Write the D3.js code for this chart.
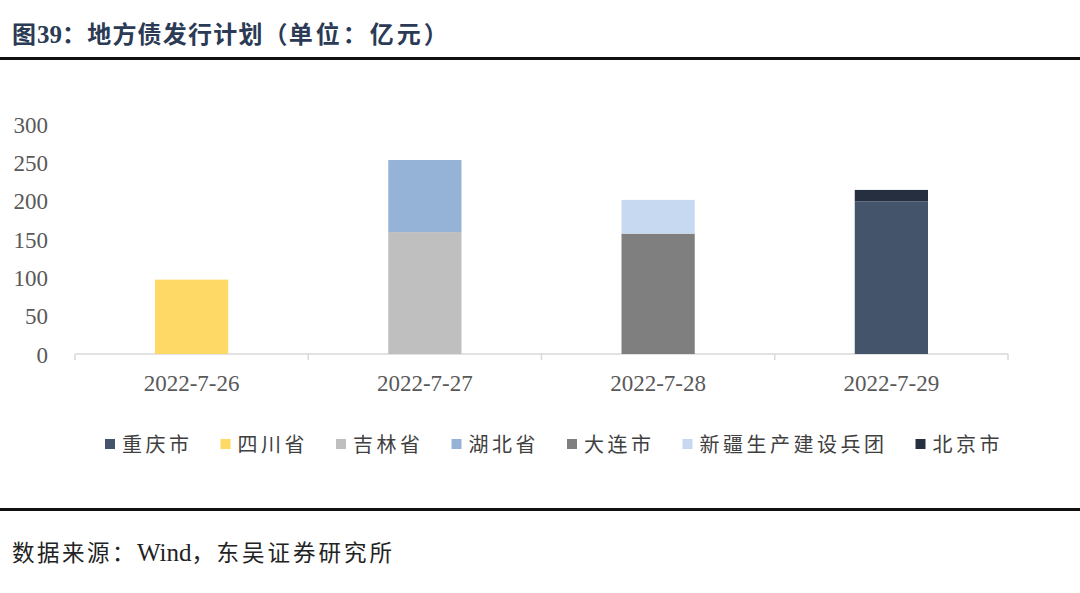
<!DOCTYPE html>
<html><head><meta charset="utf-8">
<script src="https://cdn.jsdelivr.net/npm/d3@7"></script>
<style>body{margin:0;background:#fff;}svg{display:block;}</style>
</head><body>
<svg id="c" width="1080" height="593"></svg>
<script>
const dates = ["2022-7-26","2022-7-27","2022-7-28","2022-7-29"];
const seriesNames = ["重庆市","四川省","吉林省","湖北省","大连市","新疆生产建设兵团","北京市"];
const seriesColors = ["#44546a","#ffd966","#bfbfbf","#95b3d7","#7f7f7f","#c6d9f0","#262f40"];
// values per series, aligned with dates
const chongqing = [0,0,0,199];
const sichuan   = [97,0,0,0];
const jilin     = [0,159,0,0];
const hubei     = [0,94,0,0];
const dalian    = [0,0,157,0];
const xinjiang  = [0,0,44,0];
const beijing   = [0,0,0,15];
const yTicks = [0,50,100,150,200,250,300];

const seriesValues = [chongqing,sichuan,jilin,hubei,dalian,xinjiang,beijing];
const table = dates.map((d,i)=>{const o={date:d}; seriesNames.forEach((s,j)=>o[s]=seriesValues[j][i]); return o;});
const stackOrder = ["四川省","吉林省","湖北省","大连市","新疆生产建设兵团","重庆市","北京市"];
const stacked = d3.stack().keys(stackOrder)(table);

const svg = d3.select("#c");
const color = d3.scaleOrdinal().domain(seriesNames).range(seriesColors);

// header (Latin runs without extra spacing, CJK runs with spacing)
function mixed(sel, parts){
  parts.forEach(p=>sel.append("tspan").attr("letter-spacing",p[1]).attr("font-size",p[2]).text(p[0]));
}
const title = svg.append("text").attr("x",12).attr("y",43)
  .attr("font-family","'Liberation Serif','Noto Sans CJK SC',serif").attr("font-weight","bold")
  .attr("fill","#2b3a55");
mixed(title, [["图",1,24],["39",0,25],["：地方债发行计划（",1.2,24],["单位：亿元）",3,24]]);
svg.append("rect").attr("x",0).attr("y",57).attr("width",1080).attr("height",3).attr("fill","#111");
svg.append("rect").attr("x",0).attr("y",508).attr("width",1080).attr("height",3).attr("fill","#111");
const foot = svg.append("text").attr("x",12).attr("y",561)
  .attr("font-family","'Liberation Serif','Noto Sans CJK SC',serif").attr("fill","#222");
mixed(foot, [["数据来源：",2.5,22.5],["Wind",0,25],["，",2.5,22.5],["东吴证券研究所",3,22.5]]);

const x = d3.scaleBand().domain(dates).range([75,1008]).paddingInner(0.686).paddingOuter(0.343);
const y = d3.scaleLinear().domain([0,300]).range([354,124]);

// y axis labels
const ya = svg.append("g").attr("transform","translate(48,0)")
  .call(d3.axisLeft(y).tickValues(yTicks).tickSize(0).tickPadding(0));
ya.select(".domain").remove();
ya.selectAll("text").attr("font-family","'Liberation Serif',serif").attr("font-size",23).attr("fill","#595959").attr("dy","0.35em");

// x axis
const xa = svg.append("g").attr("transform","translate(0,354)");
xa.append("line").attr("x1",75).attr("x2",1008).attr("y1",0).attr("y2",0).attr("stroke","#d9d9d9").attr("stroke-width",1.5);
const bounds = d3.range(dates.length+1).map(i=>75+i*(1008-75)/dates.length);
xa.selectAll("line.tk").data(bounds).join("line").attr("class","tk")
  .attr("x1",d=>d).attr("x2",d=>d).attr("y1",0).attr("y2",6).attr("stroke","#d9d9d9").attr("stroke-width",1.5);
xa.selectAll("text").data(dates).join("text")
  .attr("x",d=>x(d)+x.bandwidth()/2).attr("y",37).attr("text-anchor","middle")
  .attr("font-family","'Liberation Serif',serif").attr("font-size",23).attr("fill","#595959").text(d=>d);

// bars
svg.append("g").selectAll("g").data(stacked).join("g").attr("fill",d=>color(d.key))
  .selectAll("rect").data(d=>d.filter(p=>p[1]-p[0]>0)).join("rect")
  .attr("x",d=>x(d.data.date)).attr("width",x.bandwidth())
  .attr("y",d=>y(d[1])).attr("height",d=>y(d[0])-y(d[1]));

// legend
const lg = svg.append("g").attr("transform","translate(0,445)");
let lx = 105;
seriesNames.forEach((s,i)=>{
  lg.append("rect").attr("x",lx).attr("y",-6).attr("width",10).attr("height",10).attr("fill",color(s));
  const t = lg.append("text").attr("x",lx+17).attr("y",0).attr("dy","0.35em")
    .attr("font-family","'Noto Sans CJK SC',sans-serif").attr("font-size",20).attr("letter-spacing",3.5)
    .attr("fill","#404040").text(s);
  lx += 17 + t.node().getComputedTextLength() + 28;
});
</script>
</body></html>
